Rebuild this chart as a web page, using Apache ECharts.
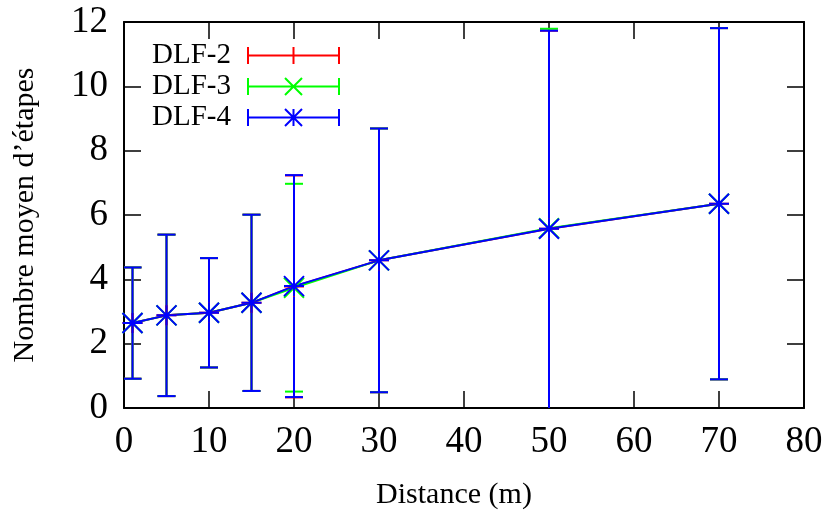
<!DOCTYPE html>
<html>
<head>
<meta charset="utf-8">
<script src="https://cdn.jsdelivr.net/npm/echarts@6/dist/echarts.min.js"></script>
<style>html,body{margin:0;padding:0;background:#fff}#c{width:833px;height:515px}</style>
</head>
<body>
<div id="c"></div>
<script>
const distances = [1, 5, 10, 15, 20, 30, 50, 70];
const dlf2Mean = [2.64, 2.88, 2.96, 3.27, 3.78, 4.59, 5.57, 6.35];
const dlf2Std  = [1.73, 2.51, 1.70, 2.74, 3.45, 4.10, 6.16, 5.46];
const dlf3Mean = [2.64, 2.88, 2.96, 3.27, 3.74, 4.59, 5.59, 6.35];
const dlf3Std  = [1.73, 2.51, 1.70, 2.74, 3.23, 4.10, 6.20, 5.46];
const dlf4Mean = [2.64, 2.88, 2.96, 3.27, 3.79, 4.59, 5.57, 6.35];
const dlf4Std  = [1.73, 2.51, 1.70, 2.74, 3.45, 4.10, 6.16, 5.46];
const seriesNames = ['DLF-2', 'DLF-3', 'DLF-4'];
const xTicks = [0, 10, 20, 30, 40, 50, 60, 70, 80];
const yTicks = [0, 2, 4, 6, 8, 10, 12];

const FONT = 'Liberation Serif';
const colors = ['#ff0000', '#00ff00', '#0000ff'];
const plotSymbols = [
  'path://M10,0L10,20M0,10L20,10',
  'path://M0,0L20,20M0,20L20,0',
  'path://M0,0L20,20M0,20L20,0M10,0L10,20M0,10L20,10'
];
const legendIcons = [
  'path://M0,8.5L91,8.5M0,0L0,17M91,0L91,17M45.5,0L45.5,17M37,8.5L54,8.5',
  'path://M0,8.5L91,8.5M0,0L0,17M91,0L91,17M37,0L54,17M37,17L54,0',
  'path://M0,8.5L91,8.5M0,0L0,17M91,0L91,17M37,0L54,17M37,17L54,0M45.5,0L45.5,17M37,8.5L54,8.5'
];
const means = [dlf2Mean, dlf3Mean, dlf4Mean];
const stds = [dlf2Std, dlf3Std, dlf4Std];

function errRender(color) {
  return function (params, api) {
    const x = api.value(0), m = api.value(1), s = api.value(2);
    const top = api.coord([x, m + s]);
    const bot = api.coord([x, m - s]);
    const hw = 9;
    const style = { stroke: color, lineWidth: 2, fill: null };
    return {
      type: 'group',
      children: [
        { type: 'line', shape: { x1: top[0], y1: top[1], x2: bot[0], y2: bot[1] }, style: style },
        { type: 'line', shape: { x1: top[0] - hw, y1: top[1], x2: top[0] + hw, y2: top[1] }, style: style },
        { type: 'line', shape: { x1: bot[0] - hw, y1: bot[1], x2: bot[0] + hw, y2: bot[1] }, style: style }
      ]
    };
  };
}

const series = [];
seriesNames.forEach(function (name, k) {
  series.push({
    type: 'custom',
    name: name + ' err',
    renderItem: errRender(colors[k]),
    clip: true,
    encode: { x: 0, y: 1 },
    data: distances.map(function (d, i) { return [d, means[k][i], stds[k][i]]; }),
    silent: true
  });
  series.push({
    type: 'line',
    name: name,
    data: distances.map(function (d, i) { return [d, means[k][i]]; }),
    symbol: plotSymbols[k],
    symbolSize: 20,
    showAllSymbol: true,
    clip: true,
    lineStyle: { color: colors[k], width: 2 },
    itemStyle: { color: colors[k], borderColor: colors[k], borderWidth: 2 }
  });
});

function axisCommon() {
  return {
    axisLine: { show: true, onZero: false, lineStyle: { color: '#000', width: 2 } },
    axisTick: { show: true, inside: true, length: 17, lineStyle: { color: '#000', width: 1.5 } },
    splitLine: { show: false }
  };
}

const option = {
  animation: false,
  backgroundColor: '#fff',
  grid: { left: 124, right: 29, top: 22, bottom: 107 },
  legend: {
    orient: 'vertical',
    right: 493,
    top: 41,
    padding: 0,
    align: 'right',
    itemWidth: 91,
    itemHeight: 17,
    itemGap: 2,
    textStyle: { fontFamily: FONT, fontSize: 29, color: '#000', lineHeight: 29, padding: [0, 12, 0, 0] },
    data: seriesNames.map(function (n, k) {
      return { name: n, icon: legendIcons[k], itemStyle: { color: colors[k], borderColor: colors[k], borderWidth: 2 } };
    })
  },
  xAxis: [
    Object.assign({
      type: 'value', min: xTicks[0], max: xTicks[xTicks.length - 1], interval: xTicks[1] - xTicks[0],
      position: 'bottom',
      name: 'Distance (m)', nameLocation: 'middle', nameGap: 72,
      nameTextStyle: { fontFamily: FONT, fontSize: 30, color: '#000', padding: [0, 20, 0, 0] },
      axisLabel: { fontFamily: FONT, fontSize: 37, color: '#000', margin: 16 }
    }, axisCommon()),
    Object.assign({
      type: 'value', min: xTicks[0], max: xTicks[xTicks.length - 1], interval: xTicks[1] - xTicks[0],
      position: 'top', axisLabel: { show: false }
    }, axisCommon())
  ],
  yAxis: [
    Object.assign({
      type: 'value', min: yTicks[0], max: yTicks[yTicks.length - 1], interval: yTicks[1] - yTicks[0],
      position: 'left',
      name: 'Nombre moyen d\u2019étapes', nameLocation: 'middle', nameGap: 84, nameRotate: 90,
      nameTextStyle: { fontFamily: FONT, fontSize: 30, color: '#000' },
      axisLabel: { fontFamily: FONT, fontSize: 37, color: '#000', margin: 16 }
    }, axisCommon()),
    Object.assign({
      type: 'value', min: yTicks[0], max: yTicks[yTicks.length - 1], interval: yTicks[1] - yTicks[0],
      position: 'right', axisLabel: { show: false }
    }, axisCommon())
  ],
  series: series
};

const chart = echarts.init(document.getElementById('c'), null, { renderer: 'canvas' });
chart.setOption(option);
</script>
</body>
</html>
